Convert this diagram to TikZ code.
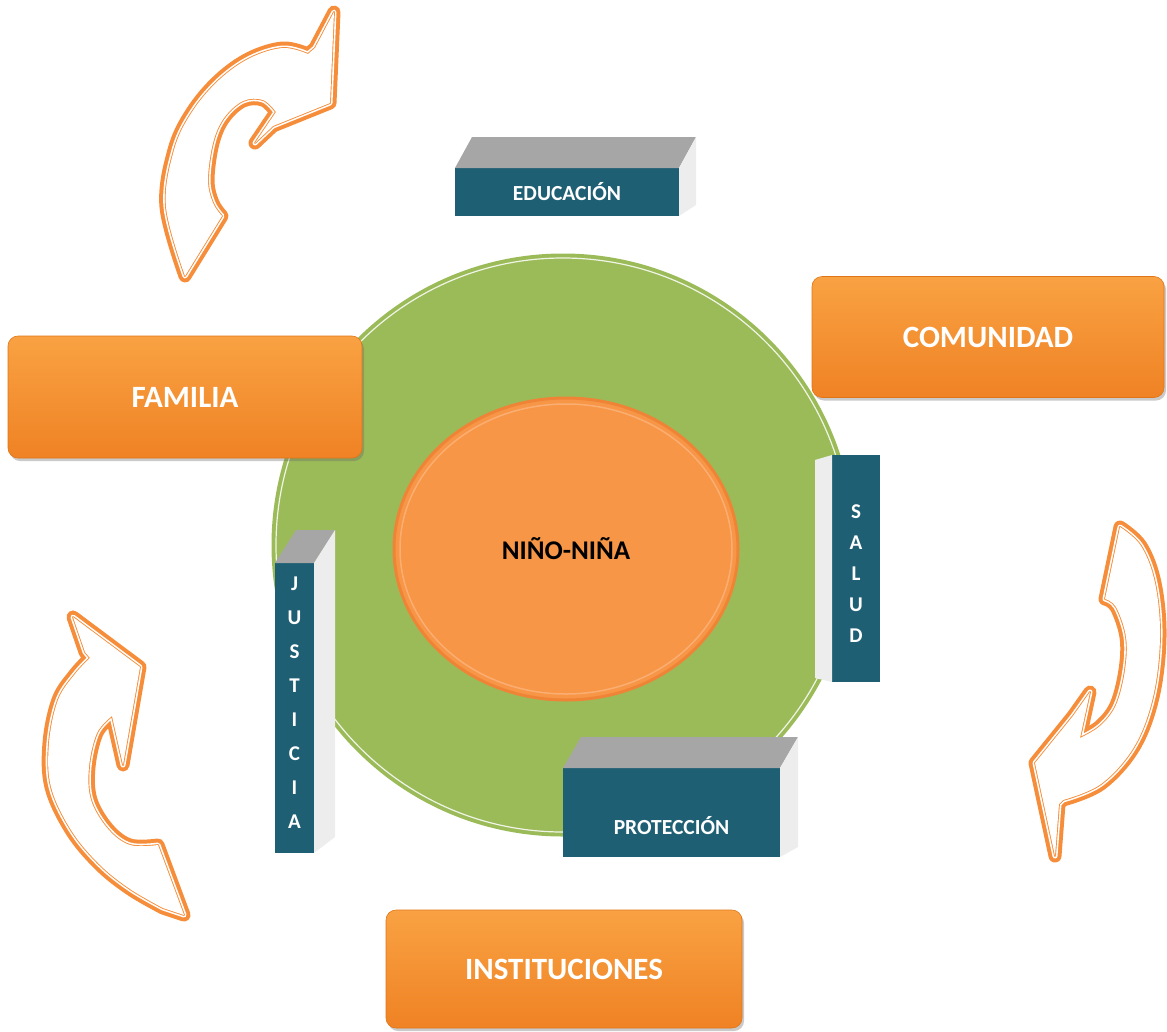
\documentclass[tikz,border=0pt]{standalone}
\usepackage{fontspec}
\setmainfont{Carlito}
\usetikzlibrary{shapes.geometric,shadows}
\definecolor{grn}{HTML}{9BBB59}
\definecolor{org}{HTML}{F79646}
\definecolor{orgdark}{HTML}{EF8436}
\definecolor{orglight}{HTML}{FBAE72}
\definecolor{boxtop}{HTML}{F9A243}
\definecolor{boxbot}{HTML}{EF8224}
\definecolor{boxline}{HTML}{E07518}
\definecolor{tealbox}{HTML}{1F5F74}
\definecolor{arrowor}{HTML}{F68D3A}
\newcommand{\hollowarrow}[1]{%
  \draw[arrowor, line width=13pt, line join=round] #1;
  \draw[white, line width=5pt, line join=round] #1;
  \draw[arrowor, line width=1.8pt, line join=round] #1;
  \fill[white] #1;}
\begin{document}
\begin{tikzpicture}[x=1pt,y=-1pt,
  obox/.style={rectangle, rounded corners=10pt, top color=boxtop, bottom color=boxbot,
    draw=boxline, line width=0.6pt, text=white, inner sep=0pt, outer sep=0pt,
    font=\fontsize{31}{37}\selectfont\bfseries,
    drop shadow={shadow xshift=2pt, shadow yshift=-3pt, opacity=0.35, fill=black!60}},
  face/.style={rectangle, fill=tealbox, inner sep=0pt, outer sep=0pt, text=white,
    font=\fontsize{21.5}{25}\selectfont\bfseries},
  facetext/.style={text=white, inner sep=0pt, font=\fontsize{21.5}{25}\selectfont\bfseries},
  vtext/.style={text=white, inner sep=0pt, align=center},
  topface/.style={fill=gray!70},
  sideface/.style={fill=gray!14}]
\useasboundingbox (0,0) rectangle (1167,1031);

% curved hollow arrows
\hollowarrow{plot[smooth,tension=0.6] coordinates {(185,276)(166,207)(174,150)(192,112)(219,80)(250,58)(283,48)(308,54)} -- (315,48) -- (334,12) -- (330,103) -- (273,126) -- (255,143) -- plot[smooth,tension=0.6] coordinates {(276,112)(263,100)(243,101)(224,118)(213,143)(208,180)(213,203)(222,216)} -- cycle}
\hollowarrow{plot[smooth,tension=0.6] coordinates {(1120,527)(1141,546)(1155,583)(1160,637)(1153,697)(1134,747)(1101,784)(1063,800)} -- (1059,804) -- (1055,856) -- (1035,763) -- (1073,716) -- (1090,692) -- plot[smooth,tension=0.6] coordinates {(1080,738)(1100,726)(1116,705)(1125,670)(1126,637)(1116,607)(1105,599)} -- cycle}
\hollowarrow{(73,617) -- (140,667) -- (123,765) -- plot[smooth,tension=0.6] coordinates {(112,716)(97,733)(89,767)(91,800)(108,829)(130,845)(158,845)} -- (184,915) -- plot[smooth,tension=0.6] coordinates {(163,908)(130,889)(99,864)(71,830)(51,787)(49,743)(58,700)(75,674)(90,658)} -- (85,652) -- cycle}

% green circle
\node[circle, fill=grn, minimum size=583pt, inner sep=0pt, outer sep=0pt] (world) at (563,545) {};
\draw[white, line width=1.2pt, opacity=0.85] (world.center) circle[radius=287];

% child ellipse
\node[ellipse, fill=org, draw=orgdark, line width=3pt, minimum width=344pt, minimum height=302pt,
  inner sep=0pt, font=\fontsize{27}{32}\selectfont\bfseries] (nino) at (566,549) {NIÑO-NIÑA};
\draw[orglight, line width=1.5pt] (nino.center) ellipse[x radius=166, y radius=145];

% EDUCACION block
\node[face, minimum width=224pt, minimum height=48pt] (edu) at (567,192) {EDUCACIÓN};
\fill[topface] (edu.north west) -- ([shift={(17,-31)}]edu.north west) -- ([shift={(17,-31)}]edu.north east) -- (edu.north east) -- cycle;
\fill[sideface] (edu.north east) -- ([shift={(17,-31)}]edu.north east) -- ([shift={(17,-11)}]edu.south east) -- (edu.south east) -- cycle;

% SALUD block
\node[face, minimum width=48pt, minimum height=227pt] (sal) at (856,568.5) {};
\fill[sideface] (sal.north west) -- ([shift={(-17,5)}]sal.north west) -- ([shift={(-17,-4)}]sal.south west) -- (sal.south west) -- cycle;
\node[vtext, font=\fontsize{21}{31}\selectfont\bfseries] (saltxt) at (856,574) {S\\A\\L\\U\\D};

% JUSTICIA block
\node[face, minimum width=39pt, minimum height=290pt] (jus) at (294.5,708) {};
\fill[topface] (jus.north west) -- ([shift={(21,-33)}]jus.north west) -- ([shift={(21,-33)}]jus.north east) -- (jus.north east) -- cycle;
\fill[sideface] (jus.north east) -- ([shift={(21,-33)}]jus.north east) -- ([shift={(21,-16)}]jus.south east) -- (jus.south east) -- cycle;
\node[vtext, font=\fontsize{21}{34}\selectfont\bfseries] (justxt) at (294.5,703) {J\\U\\S\\T\\I\\C\\I\\A};

% PROTECCION block
\node[face, minimum width=217pt, minimum height=89pt] (pro) at (671.5,812.5) {};
\fill[topface] (pro.north west) -- ([shift={(18,-31)}]pro.north west) -- ([shift={(18,-31)}]pro.north east) -- (pro.north east) -- cycle;
\fill[sideface] (pro.north east) -- ([shift={(18,-31)}]pro.north east) -- ([shift={(18,-10)}]pro.south east) -- (pro.south east) -- cycle;
\node[facetext] (protxt) at ([yshift=-13pt]pro.center) {PROTECCIÓN};

% orange boxes
\node[obox, minimum width=354pt, minimum height=122pt] (fam) at (185,397) {FAMILIA};
\node[obox, minimum width=352pt, minimum height=121pt] (com) at (988,337) {COMUNIDAD};
\node[obox, minimum width=356pt, minimum height=118pt] (ins) at (564,969) {INSTITUCIONES};
\end{tikzpicture}
\end{document}
